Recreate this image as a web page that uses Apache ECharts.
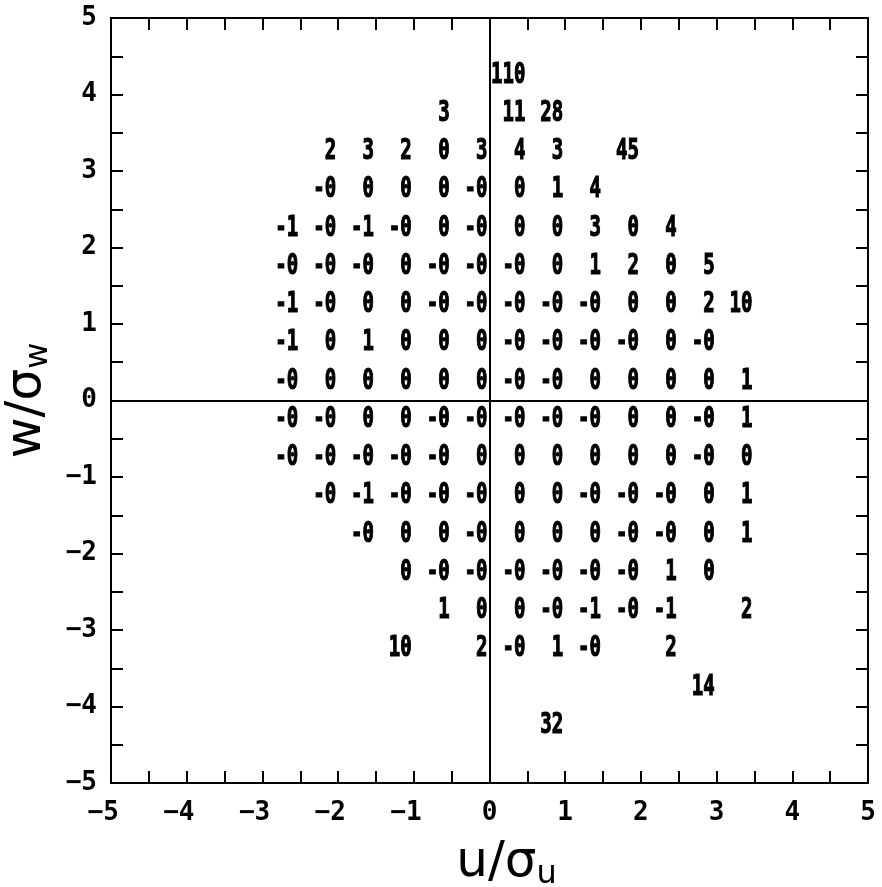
<!DOCTYPE html>
<html>
<head>
<meta charset="utf-8">
<script src="https://cdn.jsdelivr.net/npm/echarts@6/dist/echarts.min.js"></script>
<style>
  html, body { margin: 0; padding: 0; background: #fff; }
  #chart { width: 882px; height: 887px; }
</style>
</head>
<body>
<div id="chart"></div>
<script>
// bin centers (w) of each printed row, top to bottom
const rowW = [4.25, 3.75, 3.25, 2.75, 2.25, 1.75, 1.25, 0.75, 0.25,
  -0.25, -0.75, -1.25, -1.75, -2.25, -2.75, -3.25, -3.75, -4.25]
// bin center (u) of the first value in each row, step is 0.5
const rowStartU = [0.25, -0.75, -2.25, -2.25, -2.75, -2.75, -2.75, -2.75, -2.75,
  -2.75, -2.75, -2.25, -1.75, -1.25, -0.75, -1.25, 2.75, 0.75]
// printed values, null = empty bin
const rowLabels = [
  ['110'],
  ['3', null, '11', '28'],
  ['2', '3', '2', '0', '3', '4', '3', null, '45'],
  ['-0', '0', '0', '0', '-0', '0', '1', '4'],
  ['-1', '-0', '-1', '-0', '0', '-0', '0', '0', '3', '0', '4'],
  ['-0', '-0', '-0', '0', '-0', '-0', '-0', '0', '1', '2', '0', '5'],
  ['-1', '-0', '0', '0', '-0', '-0', '-0', '-0', '-0', '0', '0', '2', '10'],
  ['-1', '0', '1', '0', '0', '0', '-0', '-0', '-0', '-0', '0', '-0'],
  ['-0', '0', '0', '0', '0', '0', '-0', '-0', '0', '0', '0', '0', '1'],
  ['-0', '-0', '0', '0', '-0', '-0', '-0', '-0', '-0', '0', '0', '-0', '1'],
  ['-0', '-0', '-0', '-0', '-0', '0', '0', '0', '0', '0', '0', '-0', '0'],
  ['-0', '-1', '-0', '-0', '-0', '0', '0', '-0', '-0', '-0', '0', '1'],
  ['-0', '0', '0', '-0', '0', '0', '0', '-0', '-0', '0', '1'],
  ['0', '-0', '-0', '-0', '-0', '-0', '-0', '1', '0'],
  ['1', '0', '0', '-0', '-1', '-0', '-1', null, '2'],
  ['10', null, '2', '-0', '1', '-0', null, '2'],
  ['14'],
  ['32']
]
const axisMin = -5
const axisMax = 5

const cells = []
const cellText = []
rowLabels.forEach((row, r) => {
  row.forEach((txt, c) => {
    if (txt === null) return
    cells.push([rowStartU[r] + 0.5 * c, rowW[r]])
    cellText.push(txt)
  })
})

const chart = echarts.init(document.getElementById('chart'))

const tickStyle = { color: '#000', width: 2 }
function axisBase(extra) {
  return Object.assign({
    type: 'value',
    min: axisMin,
    max: axisMax,
    interval: 1,
    axisLine: { onZero: false, lineStyle: { color: '#000', width: 2 } },
    axisTick: { inside: true, length: 12, lineStyle: tickStyle },
    minorTick: { show: true, splitNumber: 2, length: 12, lineStyle: tickStyle },
    splitLine: { show: false },
    minorSplitLine: { show: false }
  }, extra)
}
const labelFont = { color: '#000', fontSize: 26, fontWeight: 'bold', fontFamily: '"DejaVu Sans Mono"' }
const fmt = v => (v < 0 ? '\u2212' + Math.abs(v) : String(v))
const nameRich = {
  a: { fontSize: 50, fontFamily: '"DejaVu Sans"', color: '#000' },
  b: { fontSize: 32, fontFamily: '"DejaVu Sans"', color: '#000', padding: [24, 0, 0, 0] }
}

chart.setOption({
  animation: false,
  backgroundColor: '#fff',
  grid: { left: 111, right: 14, top: 18, bottom: 104, outerBoundsMode: 'none', containLabel: false },
  xAxis: [
    axisBase({
      position: 'bottom',
      axisLabel: Object.assign({ margin: 17, formatter: v => (v < 0 ? fmt(v) + '\u00a0' : fmt(v)) }, labelFont),
      name: '{a|u/\u03c3}{b|u}',
      nameLocation: 'middle',
      nameGap: 52,
      nameTextStyle: { padding: [0, 0, 0, 34], rich: nameRich }
    }),
    axisBase({ position: 'top', axisLabel: { show: false } })
  ],
  yAxis: [
    axisBase({
      position: 'left',
      axisLabel: Object.assign({ margin: 14, formatter: fmt }, labelFont),
      name: '{a|w/\u03c3}{b|w}',
      nameLocation: 'middle',
      nameGap: 56,
      nameTextStyle: { rich: nameRich }
    }),
    axisBase({ position: 'right', axisLabel: { show: false } })
  ],
  series: [{
    type: 'custom',
    xAxisIndex: 0,
    yAxisIndex: 0,
    data: cells,
    renderItem: (params, api) => {
      // right edge of the text sits at the upper u-edge of the bin
      const p = api.coord([api.value(0) + 0.25, api.value(1)])
      return {
        type: 'text',
        x: p[0] - 2,
        y: p[1],
        scaleX: 0.68,
        style: {
          text: cellText[params.dataIndex],
          align: 'right',
          verticalAlign: 'middle',
          font: 'bold 28px "DejaVu Sans Mono"',
          fill: '#000',
          stroke: '#000',
          lineWidth: 1.2
        }
      }
    },
    markLine: {
      silent: true,
      symbol: 'none',
      label: { show: false },
      lineStyle: { color: '#000', width: 2, type: 'solid' },
      data: [{ xAxis: 0 }, { yAxis: 0 }]
    }
  }]
})
</script>
</body>
</html>
